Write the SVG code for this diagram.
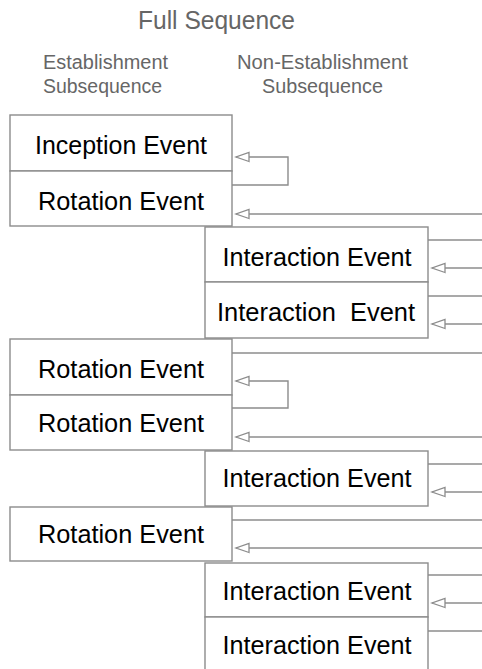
<svg xmlns="http://www.w3.org/2000/svg" width="482" height="669" viewBox="0 0 482 669">
<style>
.box{fill:#fff;stroke:#8c8c8c;stroke-width:1.4}
.ln{fill:none;stroke:#8c8c8c;stroke-width:1.4}
.arr{marker-end:url(#tri)}
.hd{font-family:"Liberation Sans",Arial,sans-serif;fill:#666;text-anchor:middle}
.lb{font-family:"Liberation Sans",Arial,sans-serif;font-size:26px;fill:#000;text-anchor:middle;white-space:pre}
</style>
<defs>
<marker id="tri" markerUnits="userSpaceOnUse" markerWidth="16" markerHeight="12" refX="14" refY="5.5" orient="auto" overflow="visible">
<path d="M1,1 L14,5.5 L1,10 Z" fill="#fff" stroke="#8c8c8c" stroke-width="1.3"/>
</marker>
</defs>
<g id="headers">
<text class="hd" x="216.5" y="29" font-size="25" textLength="157" lengthAdjust="spacingAndGlyphs">Full Sequence</text>
<text class="hd" x="105.5" y="69" font-size="20" textLength="125" lengthAdjust="spacingAndGlyphs">Establishment</text>
<text class="hd" x="102.5" y="93" font-size="20" textLength="119" lengthAdjust="spacingAndGlyphs">Subsequence</text>
<text class="hd" x="322.5" y="69" font-size="20" textLength="171" lengthAdjust="spacingAndGlyphs">Non-Establishment</text>
<text class="hd" x="322.5" y="93" font-size="20" textLength="121" lengthAdjust="spacingAndGlyphs">Subsequence</text>
</g>
<g id="connectors">
<path class="ln arr" d="M232,185 H288 V157 H236"/>
<path class="ln arr" d="M482,214 H236"/>
<path class="ln" d="M428,240 H482"/>
<path class="ln arr" d="M482,268 H432"/>
<path class="ln" d="M428,296 H482"/>
<path class="ln arr" d="M482,324 H432"/>
<path class="ln" d="M232,353 H482"/>
<path class="ln arr" d="M232,408 H288 V381 H236"/>
<path class="ln arr" d="M482,437 H236"/>
<path class="ln" d="M428,464 H482"/>
<path class="ln arr" d="M482,492 H432"/>
<path class="ln" d="M232,520 H482"/>
<path class="ln arr" d="M482,548 H236"/>
<path class="ln" d="M428,575 H482"/>
<path class="ln arr" d="M482,603 H432"/>
<path class="ln" d="M428,631 H482"/>
</g>
<g id="inception1"><rect class="box" x="10" y="115" width="222" height="56"/><text class="lb" x="121" y="154" textLength="172" lengthAdjust="spacingAndGlyphs">Inception Event</text></g>
<g id="rotation1"><rect class="box" x="10" y="171" width="222" height="55"/><text class="lb" x="121" y="210" textLength="166" lengthAdjust="spacingAndGlyphs">Rotation Event</text></g>
<g id="interaction1"><rect class="box" x="205" y="227" width="223" height="55"/><text class="lb" x="317" y="266" textLength="189" lengthAdjust="spacingAndGlyphs">Interaction Event</text></g>
<g id="interaction2"><rect class="box" x="205" y="282" width="223" height="56"/><text class="lb" x="316" y="321" textLength="198" lengthAdjust="spacingAndGlyphs">Interaction  Event</text></g>
<g id="rotation2"><rect class="box" x="10" y="339" width="222" height="56"/><text class="lb" x="121" y="378" textLength="166" lengthAdjust="spacingAndGlyphs">Rotation Event</text></g>
<g id="rotation3"><rect class="box" x="10" y="395" width="222" height="55"/><text class="lb" x="121" y="432" textLength="166" lengthAdjust="spacingAndGlyphs">Rotation Event</text></g>
<g id="interaction3"><rect class="box" x="205" y="451" width="223" height="55"/><text class="lb" x="317" y="487" textLength="189" lengthAdjust="spacingAndGlyphs">Interaction Event</text></g>
<g id="rotation4"><rect class="box" x="10" y="507" width="222" height="54"/><text class="lb" x="121" y="543" textLength="166" lengthAdjust="spacingAndGlyphs">Rotation Event</text></g>
<g id="interaction4"><rect class="box" x="205" y="563" width="223" height="54"/><text class="lb" x="317" y="600" textLength="189" lengthAdjust="spacingAndGlyphs">Interaction Event</text></g>
<g id="interaction5"><rect class="box" x="205" y="617" width="223" height="60"/><text class="lb" x="317" y="654" textLength="189" lengthAdjust="spacingAndGlyphs">Interaction Event</text></g>
</svg>
